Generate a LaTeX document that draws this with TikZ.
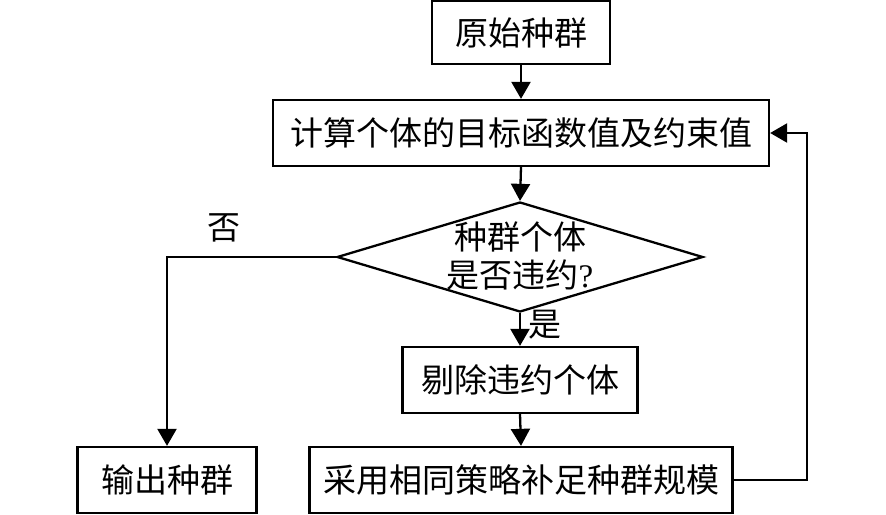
\documentclass[tikz,border=0pt]{standalone}
\usepackage{fontspec}
\newfontfamily\cjk{Noto Sans CJK SC}
\newfontfamily\latser{Liberation Serif}
\usetikzlibrary{shapes.geometric,arrows.meta}
\tikzset{
  flowbox/.style={draw, line width=2.3pt, inner sep=0pt, minimum height=66pt},
  conn/.style={line width=2.3pt, -{Triangle[length=17pt,width=19pt]}},
  txt/.style={font=\cjk\fontsize{33}{38}\selectfont}
}
\begin{document}
\begin{tikzpicture}[x=1pt,y=-1pt, every node/.style={txt}]
\useasboundingbox (0,0) rectangle (886,514);
\node[flowbox, minimum width=178pt, minimum height=63pt] (b1) at (521,32.5) {原始种群};
\node[flowbox, minimum width=496pt] (b2) at (521,133) {计算个体的目标函数值及约束值};
\node[draw, diamond, line width=2.3pt, inner sep=0pt, aspect=3.33, minimum width=366pt, minimum height=110pt] (d) at (520,257) {};
\node[align=center, inner sep=0pt] (dt) at (520,256) {种群个体\\是否违约{\latser ?}};
\node[flowbox, minimum width=235pt] (b3) at (520,380) {剔除违约个体};
\node[flowbox, minimum width=179pt] (b4) at (167,480) {输出种群};
\node[flowbox, minimum width=423pt] (b5) at (521,480) {采用相同策略补足种群规模};
\coordinate (fb) at (807,480);
\draw[conn] (b1.south) -- (b2.north);
\draw[conn] (b2.south) -- (d.north);
\draw[conn] (d.south) -- node[right=4pt, pos=0.35] (yes) {是} (b3.north);
\draw[conn] (b3.south) -- (b5.north);
\draw[conn] (d.west) -| node[pos=0.33, above=10pt] (no) {否} (b4.north);
\draw[conn] (b5.east) -- (fb) |- (b2.east);
\end{tikzpicture}
\end{document}
